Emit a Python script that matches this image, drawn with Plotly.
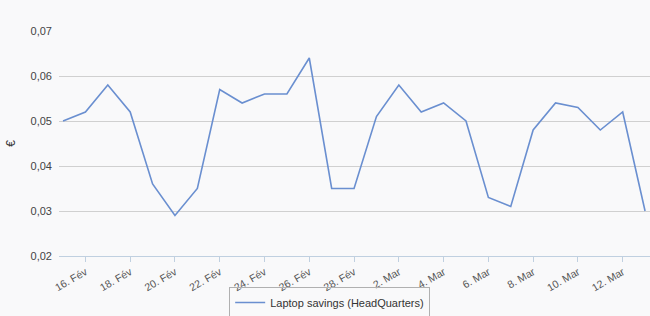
import plotly.graph_objects as go

dates = ["15. Fév", "16. Fév", "17. Fév", "18. Fév", "19. Fév", "20. Fév", "21. Fév",
         "22. Fév", "23. Fév", "24. Fév", "25. Fév", "26. Fév", "27. Fév", "28. Fév",
         "1. Mar", "2. Mar", "3. Mar", "4. Mar", "5. Mar", "6. Mar", "7. Mar",
         "8. Mar", "9. Mar", "10. Mar", "11. Mar", "12. Mar", "13. Mar"]
savings = [0.050, 0.052, 0.058, 0.052, 0.036, 0.029, 0.035,
           0.057, 0.054, 0.056, 0.056, 0.064, 0.035, 0.035,
           0.051, 0.058, 0.052, 0.054, 0.050, 0.033, 0.031,
           0.048, 0.054, 0.053, 0.048, 0.052, 0.030]
tick_labels = ["16. Fév", "18. Fév", "20. Fév", "22. Fév", "24. Fév", "26. Fév", "28. Fév",
               "2. Mar", "4. Mar", "6. Mar", "8. Mar", "10. Mar", "12. Mar"]
y_ticks = [0.02, 0.03, 0.04, 0.05, 0.06, 0.07]
y_labels = ["0,02", "0,03", "0,04", "0,05", "0,06", "0,07"]
series_name = "Laptop savings (HeadQuarters)"

fig = go.Figure()
fig.add_trace(go.Scatter(
    x=dates, y=savings, mode="lines", name=series_name,
    line=dict(color="#6a8fd0", width=1.6),
))

font = "Liberation Sans, Arial, sans-serif"
fig.update_layout(
    width=650, height=316,
    margin=dict(l=59, r=0, t=31, b=60, autoexpand=False),
    paper_bgcolor="#f9f9fa", plot_bgcolor="#f9f9fa",
    font=dict(family=font, size=11, color="#333333"),
    showlegend=True,
    legend=dict(
        orientation="h", x=0.458, xanchor="center", y=-0.138, yanchor="top",
        bordercolor="#b0b0b0", borderwidth=1, bgcolor="rgba(0,0,0,0)",
        font=dict(size=11, color="#333333"),
    ),
    xaxis=dict(
        type="category", categoryorder="array", categoryarray=dates,
        range=[-0.18, 26.22], automargin=False,
        tickmode="array", tickvals=tick_labels, ticktext=tick_labels,
        tickangle=-30, ticks="outside", ticklen=5, tickcolor="#c0d0e0",
        showgrid=False, showline=True, linecolor="#c0d0e0", linewidth=1,
        tickfont=dict(size=10.5, color="#555555"),
    ),
    yaxis=dict(
        range=[0.02, 0.07], tickmode="array", tickvals=y_ticks, ticktext=y_labels,
        showgrid=True, gridcolor="#d0d0d0", gridwidth=1, zeroline=False,
        automargin=False, ticklabelstandoff=6,
        title=dict(text="€", font=dict(size=12, color="#333333"), standoff=12),
        tickfont=dict(size=11, color="#444444"),
    ),
)

fig.write_html(
    "out.html",
    config={"displayModeBar": False},
    post_script="document.body.style.margin='0';document.body.style.overflow='hidden';",
)
